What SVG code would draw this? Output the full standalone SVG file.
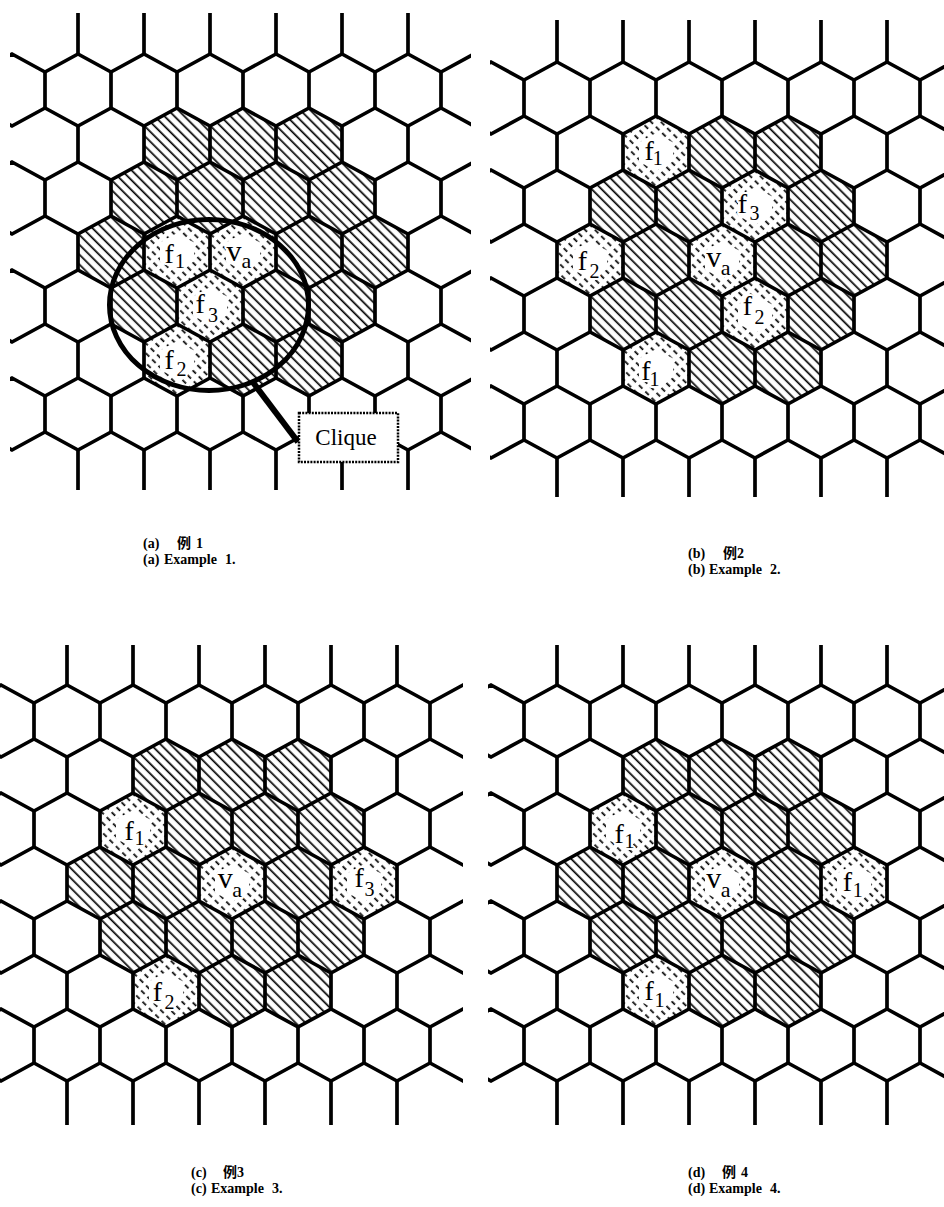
<svg xmlns="http://www.w3.org/2000/svg" width="944" height="1207" viewBox="0 0 944 1207">
<style>
.gl{fill:none;stroke:#000;stroke-width:3.7;stroke-linejoin:miter;stroke-linecap:butt}
.lb{font-family:"Liberation Serif","Times New Roman",serif;font-size:28px;fill:#000;stroke:#fff;stroke-width:4px;paint-order:stroke;stroke-linejoin:round}
.vv{font-size:30px}
.sb{font-size:20px}
.sa{font-size:22px}
.cap{font-family:"Liberation Serif","Noto Sans CJK SC",serif;font-weight:bold;font-size:14px;fill:#000}
.cj{font-family:"Noto Sans CJK SC",sans-serif;font-weight:bold}
</style>
<defs>
<pattern id="h" patternUnits="userSpaceOnUse" width="12" height="7" patternTransform="rotate(45)"><rect y="2.4" width="12" height="1.7"/></pattern>
<pattern id="hd" patternUnits="userSpaceOnUse" width="9" height="7" patternTransform="rotate(45)"><rect y="2.4" width="5" height="1.7"/></pattern>
<polygon id="hx" points="0,-36 33,-18 33,18 0,36 -33,18 -33,-18"/>
<polygon id="hi" points="0,-19 17,-9.5 17,9.5 0,19 -17,9.5 -17,-9.5"/>
<g id="lc"><use href="#hx" fill="#fff"/><use href="#hx" fill="url(#hd)"/><use href="#hi" fill="#fff"/></g>
<g id="region" fill="url(#h)">
<use href="#hx" x="177" y="144"/><use href="#hx" x="243" y="144"/><use href="#hx" x="309" y="144"/>
<use href="#hx" x="144" y="198"/><use href="#hx" x="210" y="198"/><use href="#hx" x="276" y="198"/><use href="#hx" x="342" y="198"/>
<use href="#hx" x="111" y="252"/><use href="#hx" x="177" y="252"/><use href="#hx" x="243" y="252"/><use href="#hx" x="309" y="252"/><use href="#hx" x="375" y="252"/>
<use href="#hx" x="144" y="306"/><use href="#hx" x="210" y="306"/><use href="#hx" x="276" y="306"/><use href="#hx" x="342" y="306"/>
<use href="#hx" x="177" y="360"/><use href="#hx" x="243" y="360"/><use href="#hx" x="309" y="360"/>
</g>
<path id="zz" d="M-66 0L-33 18L0 0L33 18L66 0L99 18L132 0L165 18L198 0L231 18L264 0L297 18L330 0L363 18L396 0L429 18L462 0L495 18L528 0L561 18L594 0"/>
<path id="vs" d="M-33 18v36M33 18v36M99 18v36M165 18v36M231 18v36M297 18v36M363 18v36M429 18v36M495 18v36M561 18v36"/>
<path id="st" d="M-33 0v44M33 0v44M99 0v44M165 0v44M231 0v44M297 0v44M363 0v44M429 0v44M495 0v44M561 0v44"/>
<g id="zzs"><use href="#zz" x="12" y="54"/><use href="#zz" x="45" y="108"/><use href="#zz" x="12" y="162"/><use href="#zz" x="45" y="216"/><use href="#zz" x="12" y="270"/><use href="#zz" x="45" y="324"/><use href="#zz" x="12" y="378"/><use href="#zz" x="45" y="432"/></g>
<g id="vss"><use href="#vs" x="12" y="54"/><use href="#vs" x="45" y="108"/><use href="#vs" x="12" y="162"/><use href="#vs" x="45" y="216"/><use href="#vs" x="12" y="270"/><use href="#vs" x="45" y="324"/><use href="#vs" x="12" y="378"/><use href="#st" x="45" y="10"/><use href="#st" x="45" y="450"/></g>
<clipPath id="caz"><rect x="10" y="13" width="461" height="477"/></clipPath>
<clipPath id="cav"><rect x="14" y="13" width="457" height="477"/></clipPath>
<clipPath id="cbz"><rect x="11" y="12" width="454" height="477"/></clipPath>
<clipPath id="cbv"><rect x="14" y="12" width="451" height="477"/></clipPath>
<clipPath id="ccz"><rect x="11" y="14" width="463" height="480"/></clipPath>
<clipPath id="ccv"><rect x="14" y="14" width="456" height="480"/></clipPath>
<clipPath id="cdz"><rect x="9" y="14" width="456" height="480"/></clipPath>
<clipPath id="cdv"><rect x="14" y="14" width="451" height="480"/></clipPath>
</defs>

<g id="panel-a">
<use href="#region"/>
<g id="a-f1"><use href="#lc" x="177" y="252"/><text class="lb"><tspan x="164.5" y="262.5">f</tspan><tspan class="sb" x="175" y="268">1</tspan></text></g>
<g id="a-va"><use href="#lc" x="243" y="252"/><text class="lb"><tspan class="vv" x="226.5" y="261">v</tspan><tspan class="sa" x="241.5" y="267.5">a</tspan></text></g>
<g id="a-f3"><use href="#lc" x="210" y="306"/><text class="lb"><tspan x="195.5" y="312.5">f</tspan><tspan class="sb" x="208" y="321.5">3</tspan></text></g>
<g id="a-f2"><use href="#lc" x="177" y="360"/><text class="lb"><tspan x="164.5" y="369">f</tspan><tspan class="sb" x="176.5" y="376">2</tspan></text></g>
<g id="a-grid" class="gl"><use href="#zzs" clip-path="url(#caz)"/><use href="#vss" clip-path="url(#cav)"/></g>
<g id="a-clique">
<ellipse cx="209" cy="305" rx="99.5" ry="85.5" fill="none" stroke="#000" stroke-width="5"/>
<line x1="252" y1="381" x2="298" y2="442" stroke="#000" stroke-width="6"/>
<rect x="299" y="413" width="99" height="49" fill="#fff" stroke="#000" stroke-width="2.5" stroke-dasharray="2 1.2"/>
<text x="346" y="445" text-anchor="middle" style="font-family:'Liberation Serif',serif;font-size:23px">Clique</text>
</g>
</g>

<g id="panel-b" transform="translate(479,8)">
<use href="#region"/>
<g id="b-f1-top"><use href="#lc" x="177" y="144"/><text class="lb"><tspan x="165.5" y="152">f</tspan><tspan class="sb" x="173.8" y="157">1</tspan></text></g>
<g id="b-f3"><use href="#lc" x="276" y="198"/><text class="lb"><tspan x="258.8" y="205">f</tspan><tspan class="sb" x="270.4" y="212">3</tspan></text></g>
<g id="b-f2-left"><use href="#lc" x="111" y="252"/><text class="lb"><tspan x="98.8" y="262">f</tspan><tspan class="sb" x="110.4" y="270">2</tspan></text></g>
<g id="b-va"><use href="#lc" x="243" y="252"/><text class="lb"><tspan class="vv" x="227.2" y="259">v</tspan><tspan class="sa" x="241.7" y="267">a</tspan></text></g>
<g id="b-f2-right"><use href="#lc" x="276" y="306"/><text class="lb"><tspan x="263.8" y="307">f</tspan><tspan class="sb" x="275.4" y="316">2</tspan></text></g>
<g id="b-f1-bottom"><use href="#lc" x="177" y="360"/><text class="lb"><tspan x="162.2" y="372">f</tspan><tspan class="sb" x="170.5" y="378">1</tspan></text></g>
<g id="b-grid" class="gl"><use href="#zzs" clip-path="url(#cbz)"/><use href="#vss" clip-path="url(#cbv)"/></g>
</g>

<g id="panel-c" transform="translate(-11,631)">
<use href="#region"/>
<g id="c-f1"><use href="#lc" x="144" y="198"/><text class="lb"><tspan x="135.5" y="209">f</tspan><tspan class="sb" x="145.5" y="214">1</tspan></text></g>
<g id="c-va"><use href="#lc" x="243" y="252"/><text class="lb"><tspan class="vv" x="228.8" y="257">v</tspan><tspan class="sa" x="243.3" y="266">a</tspan></text></g>
<g id="c-f3"><use href="#lc" x="375" y="252"/><text class="lb"><tspan x="365.5" y="256">f</tspan><tspan class="sb" x="375.4" y="265">3</tspan></text></g>
<g id="c-f2"><use href="#lc" x="177" y="360"/><text class="lb"><tspan x="163.8" y="370">f</tspan><tspan class="sb" x="175.4" y="378">2</tspan></text></g>
<g id="c-grid" class="gl"><use href="#zzs" clip-path="url(#ccz)"/><use href="#vss" clip-path="url(#ccv)"/></g>
</g>

<g id="panel-d" transform="translate(479,631)">
<use href="#region"/>
<g id="d-f1-left"><use href="#lc" x="144" y="198"/><text class="lb"><tspan x="135.5" y="212">f</tspan><tspan class="sb" x="145.5" y="217">1</tspan></text></g>
<g id="d-va"><use href="#lc" x="243" y="252"/><text class="lb"><tspan class="vv" x="227.2" y="257">v</tspan><tspan class="sa" x="241.7" y="266">a</tspan></text></g>
<g id="d-f1-right"><use href="#lc" x="375" y="252"/><text class="lb"><tspan x="363.8" y="260">f</tspan><tspan class="sb" x="373.8" y="266">1</tspan></text></g>
<g id="d-f1-bottom"><use href="#lc" x="177" y="360"/><text class="lb"><tspan x="165.5" y="369">f</tspan><tspan class="sb" x="175.5" y="376">1</tspan></text></g>
<g id="d-grid" class="gl"><use href="#zzs" clip-path="url(#cdz)"/><use href="#vss" clip-path="url(#cdv)"/></g>
</g>

<g id="captions">
<text class="cap"><tspan x="143" y="548">(a)</tspan><tspan class="cj" x="177" y="548">例</tspan><tspan x="196" y="548">1</tspan></text>
<text class="cap"><tspan x="143" y="564">(a)</tspan><tspan x="164" y="564">Example</tspan><tspan x="225" y="564">1.</tspan></text>
<text class="cap"><tspan x="688" y="558">(b)</tspan><tspan class="cj" x="723" y="558">例</tspan><tspan x="737" y="558">2</tspan></text>
<text class="cap"><tspan x="688" y="574">(b)</tspan><tspan x="709" y="574">Example</tspan><tspan x="770" y="574">2.</tspan></text>
<text class="cap"><tspan x="191" y="1177">(c)</tspan><tspan class="cj" x="223" y="1177">例</tspan><tspan x="237" y="1177">3</tspan></text>
<text class="cap"><tspan x="191" y="1193">(c)</tspan><tspan x="211" y="1193">Example</tspan><tspan x="272" y="1193">3.</tspan></text>
<text class="cap"><tspan x="688" y="1177">(d)</tspan><tspan class="cj" x="722" y="1177">例</tspan><tspan x="741" y="1177">4</tspan></text>
<text class="cap"><tspan x="688" y="1193">(d)</tspan><tspan x="709" y="1193">Example</tspan><tspan x="770" y="1193">4.</tspan></text>
</g>
</svg>
